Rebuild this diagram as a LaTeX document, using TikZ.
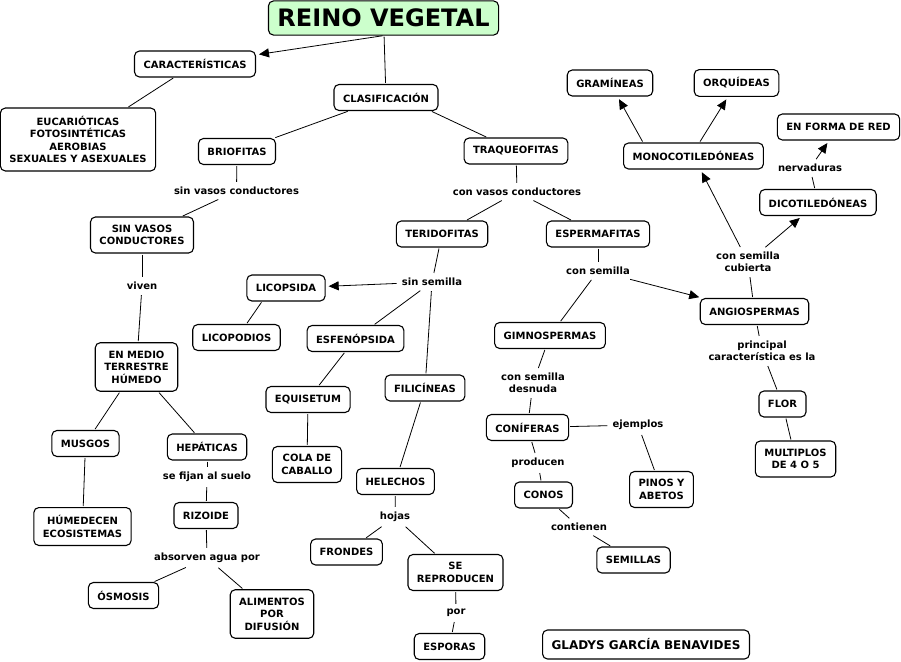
\documentclass[tikz,border=0pt]{standalone}
\usepackage{fontspec}
\setmainfont{DejaVu Sans}
\definecolor{mapgreen}{RGB}{204,255,204}
\usetikzlibrary{arrows.meta}

\begin{document}
\begin{tikzpicture}[x=1pt,y=-1pt,
      box/.style={rectangle,rounded corners=5pt,draw=black,line width=1.1pt,
                  fill=white,align=center,inner xsep=9pt,inner ysep=8pt,
                  minimum height=26pt,font=\fontsize{10}{12.5}\selectfont\bfseries},
      lbl/.style={align=center,inner sep=4pt,font=\fontsize{10}{12}\selectfont\bfseries},
      link/.style={line width=0.8pt,shorten <=1pt,shorten >=1pt},
      arr/.style={link,-{Triangle[length=10pt,width=9pt]},shorten >=3pt}]
    \useasboundingbox (0,0) rectangle (901,661);

    % concepts
    \node[box,fill=mapgreen,font=\fontsize{24}{28}\selectfont\bfseries] (reino) at (383.5,18) {REINO VEGETAL};
    \node[box] (car)     at (195,64)      {CARACTERÍSTICAS};
    \node[box] (eucar)   at (78,139.5)    {EUCARIÓTICAS\\FOTOSINTÉTICAS\\AEROBIAS\\SEXUALES Y ASEXUALES};
    \node[box] (clas)    at (386,97.5)    {CLASIFICACIÓN};
    \node[box] (brio)    at (237,151.5)   {BRIOFITAS};
    \node[box] (traq)    at (516,151)     {TRAQUEOFITAS};
    \node[box] (gram)    at (610,83)      {GRAMÍNEAS};
    \node[box] (orq)     at (736.5,83)    {ORQUÍDEAS};
    \node[box] (mono)    at (693.5,156)   {MONOCOTILEDÓNEAS};
    \node[box] (red)     at (838.5,127)   {EN FORMA DE RED};
    \node[box] (dico)    at (818,202.5)   {DICOTILEDÓNEAS};
    \node[box] (sinvas)  at (142,235)     {SIN VASOS\\CONDUCTORES};
    \node[box] (medio)   at (136.5,367)   {EN MEDIO\\TERRESTRE\\HÚMEDO};
    \node[box] (musgos)  at (85.5,443.5)  {MUSGOS};
    \node[box] (hepat)   at (207,447)     {HEPÁTICAS};
    \node[box] (humed)   at (82.5,526.5)  {HÚMEDECEN\\ECOSISTEMAS};
    \node[box] (rizo)    at (206,515.5)   {RIZOIDE};
    \node[box] (osmo)    at (123.5,595.5) {ÓSMOSIS};
    \node[box] (alim)    at (272,614)     {ALIMENTOS\\POR\\DIFUSIÓN};
    \node[box] (terido)  at (442,234)     {TERIDOFITAS};
    \node[box] (licops)  at (286,288)     {LICOPSIDA};
    \node[box] (licopod) at (236.5,337.5) {LICOPODIOS};
    \node[box] (esfen)   at (355.5,338.5) {ESFENÓPSIDA};
    \node[box] (equis)   at (308,399.5)   {EQUISETUM};
    \node[box] (cola)    at (307,464.5)   {COLA DE\\CABALLO};
    \node[box] (filic)   at (425,388)     {FILICÍNEAS};
    \node[box] (helech)  at (395.5,481.5) {HELECHOS};
    \node[box] (frond)   at (346.5,552)   {FRONDES};
    \node[box] (repro)   at (455.5,572.5) {SE\\REPRODUCEN};
    \node[box] (espor)   at (449.5,646.5) {ESPORAS};
    \node[box] (esperm)  at (598,234)     {ESPERMAFITAS};
    \node[box] (gimno)   at (550,335.5)   {GIMNOSPERMAS};
    \node[box] (conif)   at (527.5,427.5) {CONÍFERAS};
    \node[box] (pinos)   at (661.5,489.5) {PINOS Y\\ABETOS};
    \node[box] (conos)   at (543.5,495)   {CONOS};
    \node[box] (semil)   at (633.5,560)   {SEMILLAS};
    \node[box] (angio)   at (754.5,311.5) {ANGIOSPERMAS};
    \node[box] (flor)    at (782.5,404)   {FLOR};
    \node[box] (mult)    at (795.5,459)   {MULTIPLOS\\DE 4 O 5};
    \node[box,font=\fontsize{12}{14}\selectfont\bfseries,minimum height=29pt] (autora) at (646,644.5) {GLADYS GARCÍA BENAVIDES};

    % linking phrases
    \node[lbl] (lsinvas) at (236.5,191) {sin vasos conductores};
    \node[lbl] (lconvas) at (517,192)   {con vasos conductores};
    \node[lbl] (lviven)  at (142,286)   {viven};
    \node[lbl] (lfijan)  at (207,477)   {se fijan al suelo};
    \node[lbl] (labsor)  at (207,558)   {absorven agua por};
    \node[lbl] (lsinsem) at (432,282)   {sin semilla};
    \node[lbl] (lhojas)  at (395,517)   {hojas};
    \node[lbl] (lpor)    at (456,613)   {por};
    \node[lbl] (lconsem) at (598,271)   {con semilla};
    \node[lbl] (lcubier) at (748,262)   {con semilla\\cubierta};
    \node[lbl] (ldesnu)  at (533,383)   {con semilla\\desnuda};
    \node[lbl] (lprinc)  at (762,351)   {principal\\característica es la};
    \node[lbl] (lejem)   at (638,425)   {ejemplos};
    \node[lbl] (lprod)   at (538,463)   {producen};
    \node[lbl] (lcont)   at (579,527)   {contienen};
    \node[lbl] (lnerv)   at (810,168)   {nervaduras};

    % plain links
    \foreach \a/\b in {reino/clas,car/eucar,clas/brio,brio/lsinvas,
        lsinvas/sinvas,traq/lconvas,lconvas/terido,lconvas/esperm,sinvas/lviven,
        lviven/medio,medio/musgos,medio/hepat,musgos/humed,hepat/lfijan,
        lfijan/rizo,rizo/labsor,labsor/osmo,labsor/alim,terido/lsinsem,
        lsinsem/esfen,lsinsem/filic,esfen/equis,equis/cola,
        filic/helech,helech/lhojas,lhojas/frond,lhojas/repro,repro/lpor,
        lpor/espor,esperm/lconsem,lconsem/gimno,gimno/ldesnu,ldesnu/conif,
        conif/lejem,lejem/pinos,conif/lprod,lprod/conos,conos/lcont,
        lcont/semil,angio/lcubier,angio/lprinc,lprinc/flor,flor/mult,dico/lnerv}
      \draw[link] (\a) -- (\b);
    \draw[link] ([xshift=45pt]clas.south) -- (traq);
    \draw[link] ([xshift=-24pt]licops.south) -- ([xshift=10pt]licopod.north);

    % arrows
    \draw[arr] (reino.south) -- (car);
    \draw[arr] (lsinsem) -- (licops);
    \draw[arr] (lconsem) -- (angio);
    \draw[arr] (lcubier) -- (mono);
    \draw[arr] (lcubier) -- (dico);
    \draw[arr] ([xshift=20pt]mono.north west) -- (gram);
    \draw[arr] ([xshift=6pt]mono.north) -- (orq);
    \draw[arr] (lnerv) -- (red);
  \end{tikzpicture}
\end{document}
